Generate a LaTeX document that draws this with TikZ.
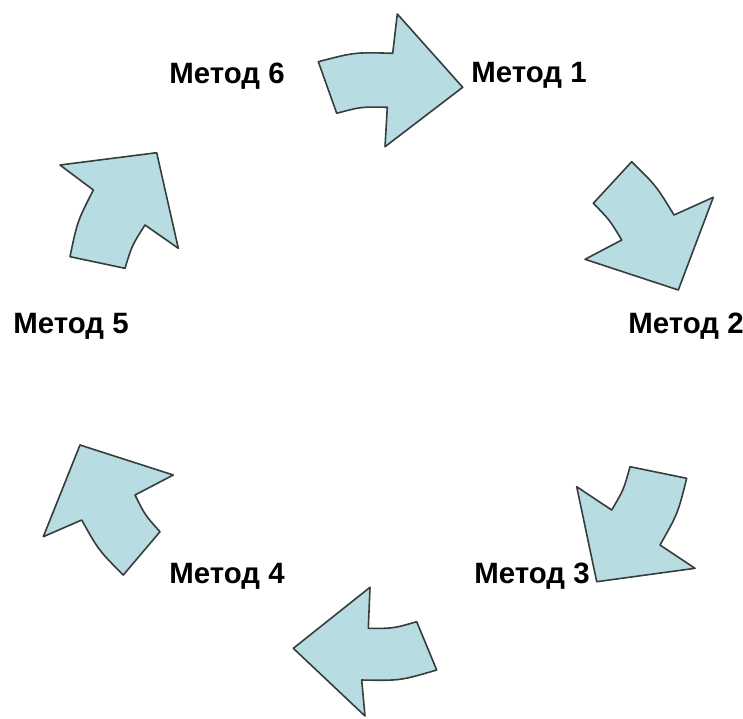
\documentclass[tikz,border=0pt]{standalone}
\usepackage{fontspec}
\setmainfont{Liberation Sans}
\definecolor{arwfill}{RGB}{183,221,226}
\definecolor{arwline}{RGB}{55,60,60}

\begin{document}
\begin{tikzpicture}
[x=0.5pt,y=-0.5pt,
arw/.style={draw=arwline,fill=arwfill,line width=0.8pt,line join=round},
lbl/.style={font=\fontsize{14.7}{17}\selectfont\bfseries,anchor=base,inner sep=0pt}]
\useasboundingbox (0,0) rectangle (743,718);
%% Labels
\node[lbl] (m1) at (529,82) {Метод 1};
\node[lbl] (m2) at (686,333) {Метод 2};
\node[lbl] (m3) at (532,583) {Метод 3};
\node[lbl] (m4) at (227,583) {Метод 4};
\node[lbl] (m5) at (71,333) {Метод 5};
\node[lbl] (m6) at (227,83) {Метод 6};
%% Arrows
% arrow 1 (top)
\draw[arw] (318.3,61.7) .. controls (354.8,52.2) .. (392.7,53.3) -- (397.3,14) -- (462.7,87.3)
  -- (385,146.7) -- (387.3,107.3) .. controls (361.5,106.7) .. (336.7,113.3) -- cycle;
% arrow 2 (right)
\draw[arw] (631.7,161.7) .. controls (656.2,185.8) .. (674,215) -- (713.3,197.3) -- (678.3,290)
  -- (585,259.3) -- (621.7,240) .. controls (609.7,220) .. (593.3,203.3) -- cycle;
% arrow 3 (lower right)
\draw[arw] (630,466.7) -- (686.7,478.3) .. controls (677.8,513.6) .. (660,545) -- (695,568.3)
  -- (596.7,581.7) -- (576.7,486.7) -- (611.7,510) .. controls (623.7,489.6) .. cycle;
% arrow 4 (bottom)
\draw[arw] (370,587.3) -- (368.3,628.3) .. controls (393.1,628.5) .. (416.7,621.7) -- (436.7,670)
  .. controls (400.2,680.7) .. (361.7,680) -- (365,716) -- (293.3,648.3) -- cycle;
% arrow 5 (lower left)
\draw[arw] (80,445) -- (173.3,475) -- (135,495) .. controls (145.1,515.2) .. (160,531.7)
  -- (123.3,575) .. controls (98.7,550.4) .. (81.7,520) -- (43.3,536.7) -- cycle;
% arrow 6 (upper left)
\draw[arw] (60,165) -- (156.7,152.7) -- (178.3,248.3) -- (145,225) .. controls (132,245.4) .. (125,268.3)
  -- (70,256.7) .. controls (77.3,221.5) .. (93.3,190) -- cycle;
\end{tikzpicture}
\end{document}
